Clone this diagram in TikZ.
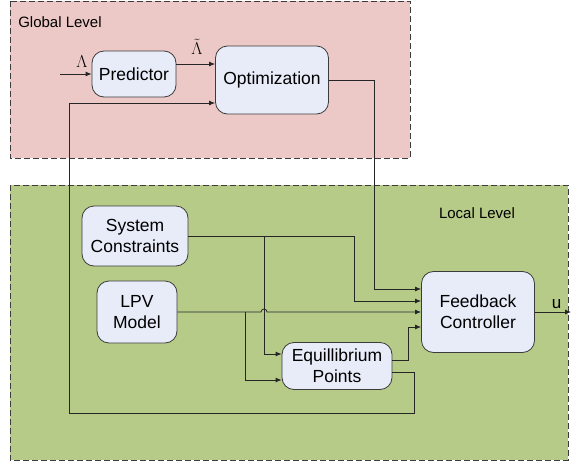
\documentclass[tikz,border=0pt]{standalone}
\usepackage{fontspec}
\setmainfont{Liberation Sans}
\usetikzlibrary{arrows.meta}
\definecolor{globalpink}{RGB}{236,201,199}
\definecolor{localgreen}{RGB}{183,203,136}
\definecolor{blockfill}{RGB}{231,236,248}
\definecolor{edgegray}{RGB}{60,60,60}
\def\globalbox{(10,1) rectangle (410,158)}
\def\localbox{(10,185) rectangle (568,460)}

\begin{document}
\begin{tikzpicture}[x=1pt, y=-1pt,
    block/.style={draw=edgegray, fill=blockfill, rounded corners=12pt, align=center,
      inner sep=0pt, font=\fontsize{17.5}{21}\selectfont, line width=0.8pt},
    level/.style={draw=edgegray, dash pattern=on 6pt off 3pt, line width=0.8pt},
    link/.style={draw=black!85, line width=0.8pt},
    ->/.style={link, -{Latex[length=6pt,width=5pt]}}]
      \useasboundingbox (0,0) rectangle (571,466);

      % Levels
      \begin{scope}
        \fill[globalpink] \globalbox;
        \draw[level] \globalbox;
        \fill[localgreen] \localbox;
        \draw[level] \localbox;
        \node[font=\fontsize{15}{17}\selectfont] (glabel) at (60,22) {Global Level};
        \node[font=\fontsize{15}{17}\selectfont] (llabel) at (477,213) {Local Level};
      \end{scope}

      % Blocks
      \node[block, minimum width=84pt, minimum height=46pt] (pred) at (134,74) {Predictor};
      \node[block, minimum width=113pt, minimum height=68pt] (opt) at (272,80) {Optimization};
      \node[block, minimum width=106pt, minimum height=60pt] (sc) at (135,236) {System\\Constraints};
      \node[block, minimum width=80pt, minimum height=62pt] (lpv) at (137,312) {LPV\\Model};
      \node[block, minimum width=110pt, minimum height=47pt] (eq) at (337,366) {Equillibrium\\Points};
      \node[block, minimum width=113pt, minimum height=81pt] (fb) at (478,312) {Feedback\\Controller};

      % Global level links
      \coordinate (lamin) at (60,74);
      \draw[->] (lamin) -- (pred.west);
      \node[font=\fontsize{18}{20}\selectfont, inner sep=0pt] (lam) at (82,62) {$\Lambda$};
      \coordinate (p1) at ([yshift=10pt]pred.east);
      \draw[->] (p1) -- (p1 -| opt.west);
      \node[font=\fontsize{18}{20}\selectfont, inner sep=0pt] (lamt) at (197,47) {$\tilde{\Lambda}$};
      \draw[->] (opt.east) -- ++(45,0) |- ([yshift=23pt]fb.west);

      % Local level links
      \coordinate (j1) at (264,237);
      \coordinate (j2) at (245,312);
      \draw[->] (sc.east) -- ++(166,0) |- ([yshift=11pt]fb.west);
      \draw[->] (j1) |- ([yshift=12pt]eq.west);
      \draw[->] (lpv.east) -- ([xshift=-3pt]j1 |- lpv.east) arc (180:360:3) -- (fb.west);
      \draw[->] (j2) |- ([yshift=-14pt]eq.west);
      \draw[->] ([yshift=6pt]eq.east) -- ++(16,0) |- ([yshift=-15pt]fb.west);

      % Loop back
      \coordinate (fbk) at (69,413);
      \coordinate (optin) at ([yshift=-23pt]opt.west);
      \draw[->] ([yshift=-6pt]eq.east) -| ++(22,41) -- (fbk) |- (optin);

      % Output
      \coordinate (uout) at (571,312);
      \draw[->] (fb.east) -- (uout) node[pos=0.6, above, font=\fontsize{17}{19}\selectfont] {u};
\end{tikzpicture}
\end{document}
